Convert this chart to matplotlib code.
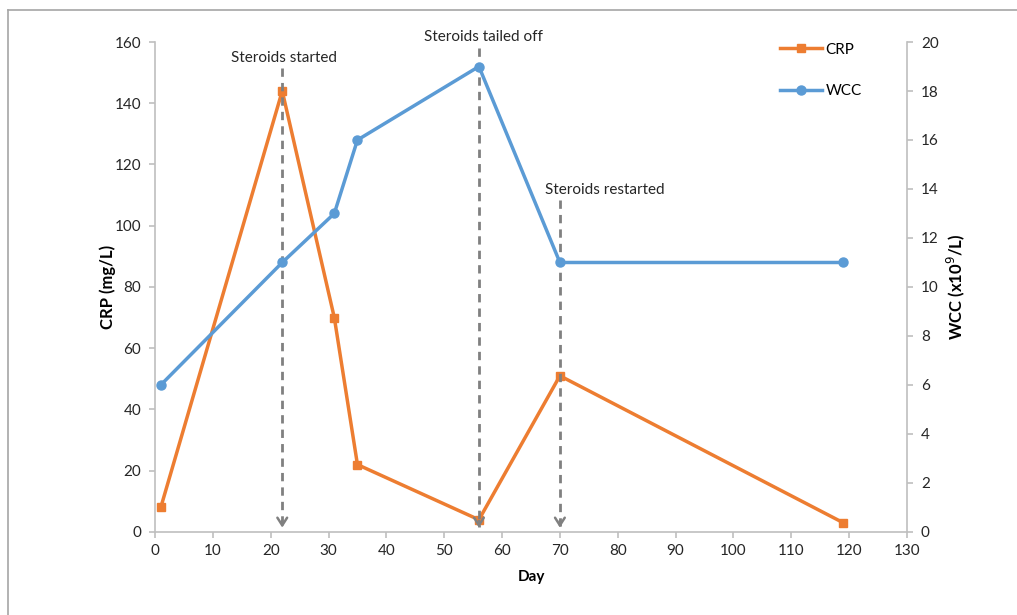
import matplotlib
matplotlib.use("Agg")
import matplotlib.pyplot as plt
from matplotlib.lines import Line2D

# ---- data ----
crp_days = [1, 22, 31, 35, 56, 70, 119]
crp_vals = [8, 144, 70, 22, 4, 51, 3]
wcc_days = [1, 22, 31, 35, 56, 70, 119]
wcc_vals = [6, 11, 13, 16, 19, 11, 11]
event_days = [22, 56, 70]
event_labels = ["Steroids started", "Steroids tailed off", "Steroids restarted"]
x_ticks = list(range(0, 131, 10))
crp_ticks = list(range(0, 161, 20))
wcc_ticks = list(range(0, 21, 2))

plt.rcParams['font.family'] = ['Lato', 'DejaVu Sans']
ORANGE = '#ED7D31'
BLUE = '#5B9BD5'
GREY = '#808080'
AXC = '#BFBFBF'
FS = 11

fig = plt.figure(figsize=(10.17, 6.15), dpi=100)
ax = fig.add_axes([0.1524, 0.135, 0.7394, 0.7967])
ax2 = ax.twinx()

ax.set_xlim(0, 130)
ax.set_ylim(0, 160)
ax2.set_ylim(0, 20)
ax.set_xticks(x_ticks)
ax.set_yticks(crp_ticks)
ax2.set_yticks(wcc_ticks)

for a in (ax, ax2):
    a.spines['top'].set_visible(False)
    for s in ('left', 'right', 'bottom'):
        a.spines[s].set_color(AXC)
        a.spines[s].set_linewidth(1.2)
    a.tick_params(colors=AXC, labelcolor='#262626', labelsize=FS, length=4, width=1.2, direction='out')
ax.spines['right'].set_visible(False)
ax2.spines['left'].set_visible(False)
ax2.spines['bottom'].set_visible(False)
ax.tick_params(axis='x', pad=5)
ax.tick_params(axis='y', pad=6)
ax2.tick_params(axis='y', pad=6)

l1, = ax.plot(crp_days, crp_vals, color=ORANGE, lw=2.5, marker='s', ms=6, label='CRP', zorder=3)
l2, = ax2.plot(wcc_days, wcc_vals, color=BLUE, lw=2.5, marker='o', ms=6.5, label='WCC', zorder=3)

ax.set_xlabel('Day', fontsize=FS, fontweight='bold', labelpad=8)
ax.set_ylabel('CRP (mg/L)', fontsize=12, fontweight='bold', labelpad=-1)
ax2.set_ylabel('WCC (x10$^{9}$/L)', fontsize=12, fontweight='bold', labelpad=4)

# event annotations
line_tops = [151.5, 158.0, 108.4]
text_pos = [(22.3, 154.8, 'center'), (56.8, 161.6, 'center'), (67.4, 111.7, 'left')]
for d, lab, top, (tx, ty, ha) in zip(event_days, event_labels, line_tops, text_pos):
    ax.plot([d, d], [top, 1.5], ls=(0, (3, 2.2)), color=GREY, lw=2, zorder=5, clip_on=False)
    ax.annotate('', xy=(d, 0.5), xytext=(0, 9), textcoords='offset points',
                arrowprops=dict(arrowstyle='->,head_width=0.35,head_length=0.55', color=GREY, lw=1.8),
                zorder=5, annotation_clip=False)
    ax.text(tx, ty, lab, ha=ha, va='center', fontsize=FS, color='#262626', clip_on=False)

leg = ax.legend(handles=[l1, l2], loc='upper left', bbox_to_anchor=(0.759, 0.943),
                bbox_transform=fig.transFigure, frameon=False, fontsize=FS,
                labelspacing=1.8, handlelength=2.8, handletextpad=0.2, borderpad=0)

# figure border (left and top visible)
fig.add_artist(Line2D([0.008, 0.008], [0.0, 0.984], transform=fig.transFigure, color='#A6A6A6', lw=1.2))
fig.add_artist(Line2D([0.008, 1.0], [0.984, 0.984], transform=fig.transFigure, color='#A6A6A6', lw=1.2))

fig.savefig('out.png', dpi=100)
